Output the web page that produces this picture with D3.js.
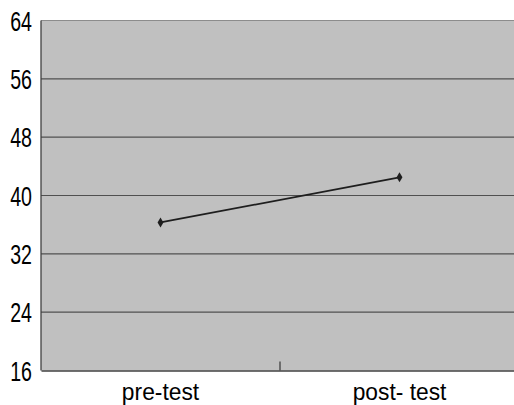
<!DOCTYPE html>
<html><head><meta charset="utf-8">
<script src="https://cdn.jsdelivr.net/npm/d3@7"></script>
<style>html,body{margin:0;padding:0;background:#fff;overflow:hidden}</style>
</head><body>
<svg id="c" width="514" height="405"></svg>
<script>
const categories = ["pre-test", "post- test"];
const values = [36.3, 42.5];
const yTicks = [16, 24, 32, 40, 48, 56, 64];

(function () {
const svg = d3.select("#c");
const pl = 41, pr = 519, pt = 20.5, pb = 370.5;
const x = d3.scaleBand().domain(categories).range([pl, pr]);
const y = d3.scaleLinear().domain([16, 64]).range([pb, pt]);

svg.append("rect").attr("x", pl).attr("y", pt).attr("width", pr - pl).attr("height", pb - pt).attr("fill", "#c0c0c0");

// gridlines
svg.append("g").selectAll("line").data(yTicks.filter(t => t > 16)).join("line")
  .attr("x1", pl).attr("x2", pr)
  .attr("y1", d => y(d)).attr("y2", d => y(d))
  .attr("stroke", d => d === 64 ? "#8c8c8c" : "#505050").attr("stroke-width", 1.2);

// left axis line
svg.append("line").attr("x1", pl).attr("x2", pl).attr("y1", pt).attr("y2", pb).attr("stroke", "#404040").attr("stroke-width", 1.3);
// bottom axis
const xAxis = d3.axisBottom(x).tickSize(0).tickFormat("");
const gx = svg.append("g").attr("transform", `translate(0,${pb})`).call(xAxis);
gx.select(".domain").attr("stroke", "#404040").attr("stroke-width", 1.5);
// inner category separator tick
svg.append("g").selectAll("line").data(categories.slice(1)).join("line")
  .attr("x1", d => x(d)).attr("x2", d => x(d))
  .attr("y1", pb).attr("y2", pb - 9)
  .attr("stroke", "#404040").attr("stroke-width", 1.3);

// y labels
svg.append("g").selectAll("text").data(yTicks).join("text")
  .attr("transform", d => `translate(32,${y(d) + 10}) scale(0.7,1)`)
  .attr("text-anchor", "end")
  .attr("font-family", "Liberation Sans, Arial, sans-serif")
  .attr("font-size", 28).attr("fill", "#000")
  .text(d => d);

// x labels
svg.append("g").selectAll("text").data(categories).join("text")
  .attr("transform", d => `translate(${x(d) + x.bandwidth() / 2},400) scale(0.95,1)`)
  .attr("text-anchor", "middle")
  .attr("font-family", "Liberation Sans, Arial, sans-serif")
  .attr("font-size", 24).attr("fill", "#000")
  .text(d => d);

// line
const line = d3.line().x((d, i) => x(categories[i]) + x.bandwidth() / 2).y(d => y(d));
svg.append("path").datum(values).attr("d", line).attr("fill", "none").attr("stroke", "#1e1e1e").attr("stroke-width", 1.8);
svg.append("g").selectAll("path").data(values).join("path")
  .attr("d", d3.symbol(d3.symbolDiamond, 30))
  .attr("transform", (d, i) => `translate(${x(categories[i]) + x.bandwidth() / 2},${y(d)})`)
  .attr("fill", "#1e1e1e");
})();
</script>
</body></html>
